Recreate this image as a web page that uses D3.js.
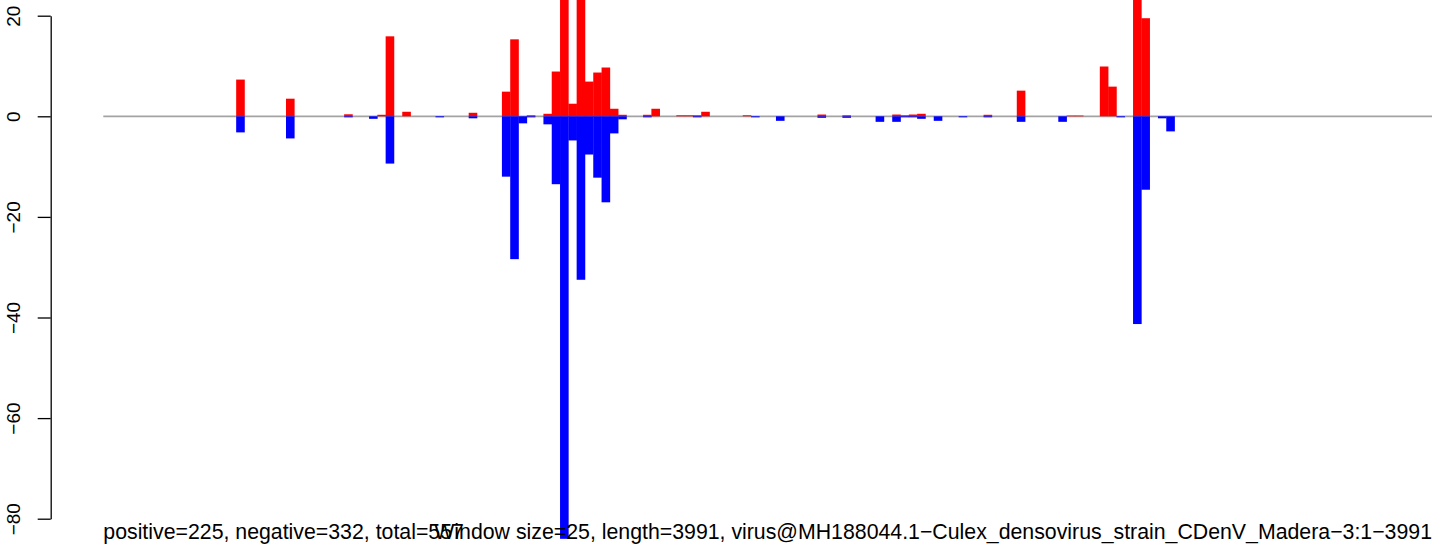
<!DOCTYPE html>
<html>
<head>
<meta charset="utf-8">
<script src="https://cdn.jsdelivr.net/npm/d3@7"></script>
<style>
  body { margin: 0; background: #fff; }
  text { font-family: "Liberation Sans", Arial, Helvetica, sans-serif; }
</style>
</head>
<body>
<div id="canvas"></div>
<script>
/* Configuration variables: drawing */
let svgWidth = 1444;
let svgHeight = 550;

/* sRNA coverage per 25nt window, 160 windows */
let positive = [
    0, 0, 0, 0, 0, 0, 0, 0, 0, 0, 0, 0, 0, 0, 0, 0, 7.3, 0, 0, 0,
    0, 0, 3.5, 0, 0, 0, 0, 0, 0, 0.4, 0, 0, 0, 0.3, 15.9, 0, 0.9, 0, 0, 0,
    0, 0, 0, 0, 0.7, 0, 0, 0, 4.9, 15.3, 0, 0.2, 0, 0.5, 8.9, 25, 2.5, 25, 6.9, 8.7,
    9.7, 1.5, 0.3, 0, 0, 0.3, 1.5, 0, 0, 0.2, 0.2, 0.2, 0.9, 0, 0, 0, 0, 0.2, 0, 0,
    0, 0, 0, 0, 0, 0, 0.35, 0, 0, 0.2, 0, 0, 0, 0, 0, 0.35, 0.2, 0.35, 0.5, 0,
    0, 0, 0, 0, 0, 0, 0.3, 0, 0, 0, 5.1, 0, 0, 0, 0, 0, 0.15, 0.15, 0, 0,
    9.9, 5.9, 0, 0, 25, 19.5, 0, 0, 0, 0, 0, 0, 0, 0, 0, 0, 0, 0, 0, 0,
    0, 0, 0, 0, 0, 0, 0, 0, 0, 0, 0, 0, 0, 0, 0, 0, 0, 0, 0, 0
];
let negative = [
    0, 0, 0, 0, 0, 0, 0, 0, 0, 0, 0, 0, 0, 0, 0, 0, -3.2, 0, 0, 0,
    0, 0, -4.4, 0, 0, 0, 0, 0, 0, -0.2, 0, 0, -0.5, 0, -9.4, 0, 0, 0, 0, 0,
    -0.2, 0, 0, 0, -0.4, 0, 0, 0, -12.0, -28.4, -1.4, -0.2, 0, -1.6, -13.5, -84, -4.8, -32.5, -7.6, -12.2,
    -17.1, -3.4, -0.6, 0, 0, -0.2, 0, 0, 0, 0, 0, -0.2, 0, 0, 0, 0, 0, 0, -0.2, 0,
    0, -0.9, 0, 0, 0, 0, -0.3, 0, 0, -0.3, 0, 0, 0, -1.1, 0, -1.1, -0.2, -0.2, -0.5, 0,
    -0.9, 0, 0, -0.2, 0, 0, -0.2, 0, 0, 0, -1.1, 0, 0, 0, 0, -1.1, 0, 0, 0, 0,
    0, 0, -0.2, 0, -41.3, -14.6, 0, -0.4, -3.0, 0, 0, 0, 0, 0, 0, 0, 0, 0, 0, 0,
    0, 0, 0, 0, 0, 0, 0, 0, 0, 0, 0, 0, 0, 0, 0, 0, 0, 0, 0, 0
];
let yTicks = [20, 0, -20, -40, -60, -80];
let leftLabel = "positive=225, negative=332, total=557";
let rightLabel = "Window size=25, length=3991, virus@MH188044.1\u2212Culex_densovirus_strain_CDenV_Madera\u22123:1\u22123991";

let svg = d3.select("#canvas")
    .append("svg")
    .attr("width", svgWidth)
    .attr("height", svgHeight);

let xScale = d3.scaleBand()
    .domain(d3.range(positive.length))
    .range([103.3, 1432])
    .padding(0);

let yScale = d3.scaleLinear()
    .domain([20, -80])
    .range([15.7, 518.7]);

// zero line first, bars go over it
svg.append("line")
    .attr("x1", 103.3).attr("x2", 1432)
    .attr("y1", yScale(0)).attr("y2", yScale(0))
    .attr("stroke", "#a3a3a3").attr("stroke-width", 1.8);

svg.selectAll(".pos")
    .data(positive)
    .enter()
    .append("rect")
    .attr("class", "pos")
    .attr("x", (d, i) => xScale(i))
    .attr("width", xScale.bandwidth() + 0.3)
    .attr("y", d => yScale(d))
    .attr("height", d => yScale(0) - yScale(d))
    .attr("fill", "#ff0000");

svg.selectAll(".neg")
    .data(negative)
    .enter()
    .append("rect")
    .attr("class", "neg")
    .attr("x", (d, i) => xScale(i))
    .attr("width", xScale.bandwidth() + 0.3)
    .attr("y", yScale(0))
    .attr("height", d => yScale(d) - yScale(0))
    .attr("fill", "#0000ff");

/* y axis, R style with rotated labels */
let yAxis = svg.append("g")
    .attr("transform", "translate(50.7,0)")
    .call(d3.axisLeft(yScale).tickValues(yTicks).tickSize(13).tickSizeOuter(0));

yAxis.select(".domain").attr("stroke", "#000").attr("stroke-width", 1.3);
yAxis.selectAll(".tick line").attr("stroke", "#000").attr("stroke-width", 1.3);
yAxis.selectAll(".tick text")
    .attr("x", null).attr("dy", null)
    .attr("text-anchor", "middle")
    .attr("transform", "translate(-30.5,0) rotate(-90)")
    .attr("font-size", 19)
    .attr("font-family", "Liberation Sans, Arial, sans-serif")
    .attr("fill", "#000");

// bottom captions (they overlap in the original)
svg.append("text")
    .attr("x", 103.3).attr("y", 539)
    .attr("font-size", 21.3)
    .text(leftLabel);

svg.append("text")
    .attr("x", 1432).attr("y", 539)
    .attr("text-anchor", "end")
    .attr("font-size", 21.3)
    .text(rightLabel);
</script>
</body>
</html>
